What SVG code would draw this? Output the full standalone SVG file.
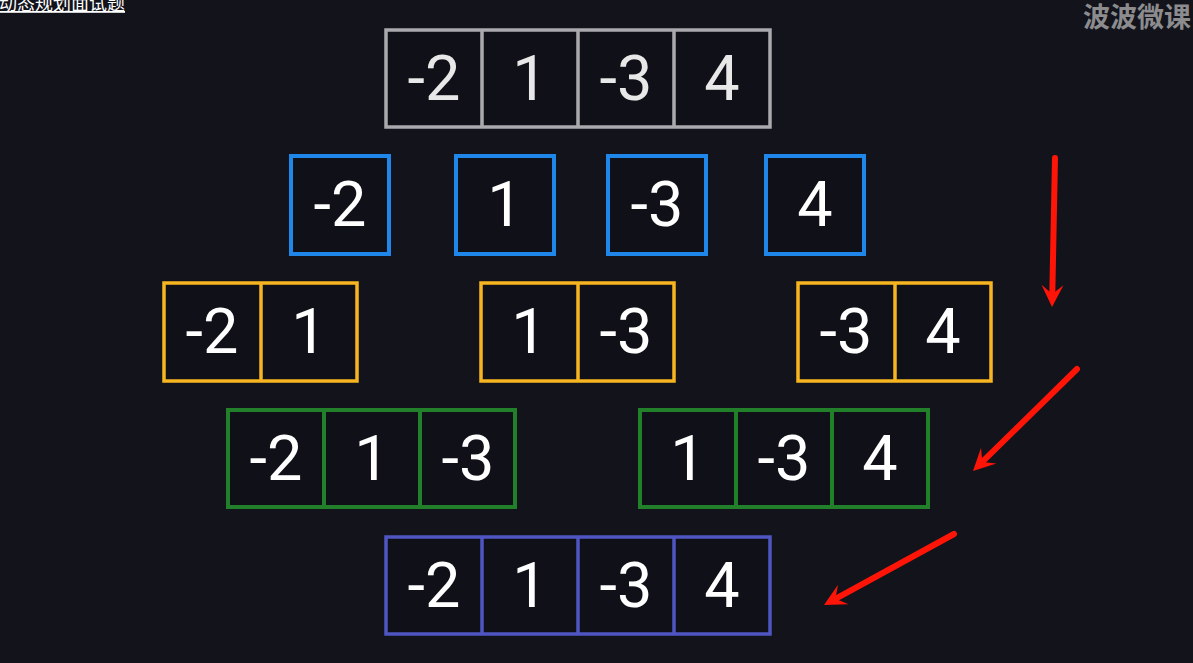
<svg xmlns="http://www.w3.org/2000/svg" width="1193" height="663" viewBox="0 0 1193 663">
<style>
.cell{fill:#101118}
.num{font-family:Roboto,"Liberation Sans",sans-serif;font-size:63px;fill:#ffffff;text-anchor:middle}
.gray{fill:none;stroke:#a9a9ae;stroke-width:3.5}
.blue{fill:none;stroke:#1f87ea;stroke-width:4}
.yellow{fill:none;stroke:#f7b51f;stroke-width:3.5}
.green{fill:none;stroke:#23802a;stroke-width:4}
.purple{fill:none;stroke:#4f56c2;stroke-width:3.5}
.arrow{stroke:#ff1408;stroke-width:6;stroke-linecap:round;fill:none;marker-end:url(#head)}
</style>
<defs>
<marker id="head" markerUnits="userSpaceOnUse" markerWidth="40" markerHeight="40" refX="9" refY="0" orient="auto" overflow="visible">
<path d="M0,-11 L22,0 L0,11 L9,0 Z" fill="#ff1408"/>
</marker>
</defs>
<rect width="1193" height="663" fill="#13141b"/>
<text x="-1" y="10" font-family="'Noto Sans CJK SC',sans-serif" font-size="18" fill="#ffffff" text-decoration="underline">动态规划面试题</text>
<text x="1083" y="27" font-family="'Noto Sans CJK SC',sans-serif" font-size="27" font-weight="bold" fill="#8c8c8e">波波微课</text>

<g id="row0-full">
<rect class="cell" x="386" y="30" width="384" height="97"/>
<rect class="gray" x="386" y="30" width="384" height="97"/>
<path class="gray" d="M482,30V127M578,30V127M674,30V127"/>
<g class="num" style="fill:#e8e8e8">
<text x="434" y="100">-2</text><text x="530" y="100">1</text><text x="626" y="100">-3</text><text x="722" y="100">4</text>
</g>
</g>

<g id="row1-a"><rect class="cell" x="291" y="156" width="98" height="98"/><rect class="blue" x="291" y="156" width="98" height="98"/><text class="num" x="340" y="226">-2</text></g>
<g id="row1-b"><rect class="cell" x="456" y="156" width="98" height="98"/><rect class="blue" x="456" y="156" width="98" height="98"/><text class="num" x="505" y="226">1</text></g>
<g id="row1-c"><rect class="cell" x="608" y="156" width="98" height="98"/><rect class="blue" x="608" y="156" width="98" height="98"/><text class="num" x="657" y="226">-3</text></g>
<g id="row1-d"><rect class="cell" x="766" y="156" width="98" height="98"/><rect class="blue" x="766" y="156" width="98" height="98"/><text class="num" x="815" y="226">4</text></g>

<g id="row2-a"><rect class="cell" x="164" y="283" width="193" height="98"/><rect class="yellow" x="164" y="283" width="193" height="98"/><path class="yellow" d="M261,283V381"/><text class="num" x="212" y="353">-2</text><text class="num" x="309" y="353">1</text></g>
<g id="row2-b"><rect class="cell" x="481" y="283" width="193" height="98"/><rect class="yellow" x="481" y="283" width="193" height="98"/><path class="yellow" d="M578,283V381"/><text class="num" x="529" y="353">1</text><text class="num" x="626" y="353">-3</text></g>
<g id="row2-c"><rect class="cell" x="798" y="283" width="193" height="98"/><rect class="yellow" x="798" y="283" width="193" height="98"/><path class="yellow" d="M895,283V381"/><text class="num" x="846" y="353">-3</text><text class="num" x="943" y="353">4</text></g>

<g id="row3-a"><rect class="cell" x="228" y="410" width="287" height="97"/><rect class="green" x="228" y="410" width="287" height="97"/><path class="green" d="M324,410V507M420,410V507"/><text class="num" x="276" y="480">-2</text><text class="num" x="372" y="480">1</text><text class="num" x="468" y="480">-3</text></g>
<g id="row3-b"><rect class="cell" x="640" y="410" width="288" height="97"/><rect class="green" x="640" y="410" width="288" height="97"/><path class="green" d="M736,410V507M832,410V507"/><text class="num" x="688" y="480">1</text><text class="num" x="784" y="480">-3</text><text class="num" x="880" y="480">4</text></g>

<g id="row4-full">
<rect class="cell" x="386" y="537" width="384" height="97"/>
<rect class="purple" x="386" y="537" width="384" height="97"/>
<path class="purple" d="M482,537V634M578,537V634M674,537V634"/>
<text class="num" x="434" y="607">-2</text><text class="num" x="530" y="607">1</text><text class="num" x="626" y="607">-3</text><text class="num" x="722" y="607">4</text>
</g>

<g id="connectors">
<path class="arrow" d="M1055,158 L1052.3,294"/>
<path class="arrow" d="M1077,369 L982.3,461.9"/>
<path class="arrow" d="M954,534 L835.4,598.8"/>
</g>
</svg>
